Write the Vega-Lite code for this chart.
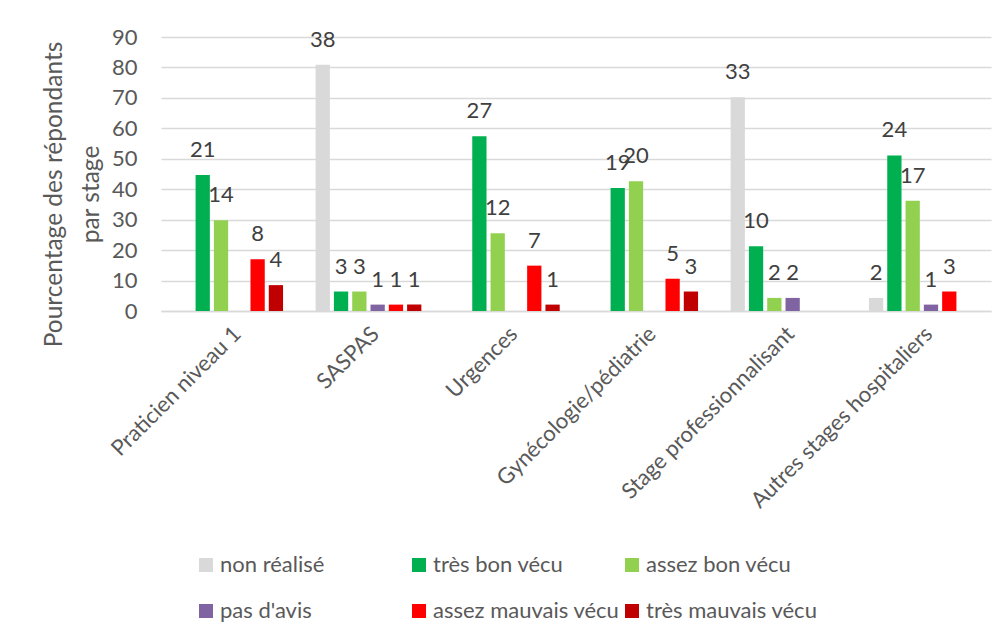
{
  "$schema": "https://vega.github.io/schema/vega-lite/v6.json",
  "width": 830,
  "height": 274,
  "autosize": {"type": "none"},
  "padding": {"left": 161, "top": 37, "right": 16, "bottom": 328},
  "background": "white",
  "config": {
    "font": "Lato",
    "view": {"stroke": null},
    "axis": {"labelColor": "#595959", "titleColor": "#595959", "labelFont": "Lato", "titleFont": "Lato"}
  },
  "data": {
    "values": [
      {"stage": "Praticien niveau 1", "avis": "très bon vécu", "n": 21, "pct": 44.7},
      {"stage": "Praticien niveau 1", "avis": "assez bon vécu", "n": 14, "pct": 29.8},
      {"stage": "Praticien niveau 1", "avis": "assez mauvais vécu", "n": 8, "pct": 17.0},
      {"stage": "Praticien niveau 1", "avis": "très mauvais vécu", "n": 4, "pct": 8.5},
      {"stage": "SASPAS", "avis": "non réalisé", "n": 38, "pct": 80.9},
      {"stage": "SASPAS", "avis": "très bon vécu", "n": 3, "pct": 6.4},
      {"stage": "SASPAS", "avis": "assez bon vécu", "n": 3, "pct": 6.4},
      {"stage": "SASPAS", "avis": "pas d'avis", "n": 1, "pct": 2.1},
      {"stage": "SASPAS", "avis": "assez mauvais vécu", "n": 1, "pct": 2.1},
      {"stage": "SASPAS", "avis": "très mauvais vécu", "n": 1, "pct": 2.1},
      {"stage": "Urgences", "avis": "très bon vécu", "n": 27, "pct": 57.4},
      {"stage": "Urgences", "avis": "assez bon vécu", "n": 12, "pct": 25.5},
      {"stage": "Urgences", "avis": "assez mauvais vécu", "n": 7, "pct": 14.9},
      {"stage": "Urgences", "avis": "très mauvais vécu", "n": 1, "pct": 2.1},
      {"stage": "Gynécologie/pédiatrie", "avis": "très bon vécu", "n": 19, "pct": 40.4},
      {"stage": "Gynécologie/pédiatrie", "avis": "assez bon vécu", "n": 20, "pct": 42.6},
      {"stage": "Gynécologie/pédiatrie", "avis": "assez mauvais vécu", "n": 5, "pct": 10.6},
      {"stage": "Gynécologie/pédiatrie", "avis": "très mauvais vécu", "n": 3, "pct": 6.4},
      {"stage": "Stage professionnalisant", "avis": "non réalisé", "n": 33, "pct": 70.2},
      {"stage": "Stage professionnalisant", "avis": "très bon vécu", "n": 10, "pct": 21.3},
      {"stage": "Stage professionnalisant", "avis": "assez bon vécu", "n": 2, "pct": 4.3},
      {"stage": "Stage professionnalisant", "avis": "pas d'avis", "n": 2, "pct": 4.3},
      {"stage": "Autres stages hospitaliers", "avis": "non réalisé", "n": 2, "pct": 4.3},
      {"stage": "Autres stages hospitaliers", "avis": "très bon vécu", "n": 24, "pct": 51.1},
      {"stage": "Autres stages hospitaliers", "avis": "assez bon vécu", "n": 17, "pct": 36.2},
      {"stage": "Autres stages hospitaliers", "avis": "pas d'avis", "n": 1, "pct": 2.1},
      {"stage": "Autres stages hospitaliers", "avis": "assez mauvais vécu", "n": 3, "pct": 6.4}
    ]
  },
  "encoding": {
    "x": {
      "field": "stage", "type": "nominal",
      "sort": ["Praticien niveau 1", "SASPAS", "Urgences", "Gynécologie/pédiatrie", "Stage professionnalisant", "Autres stages hospitaliers"],
      "scale": {"paddingInner": 0, "paddingOuter": 0},
      "axis": {
        "title": null, "labelAngle": -45, "labelFontSize": 22, "ticks": false, "tickSize": 0,
        "labelPadding": 12, "domainColor": "#D9D9D9", "domainWidth": 1.5, "labelLimit": 400
      }
    },
    "xOffset": {
      "field": "avis", "type": "nominal",
      "scale": {
        "domain": ["non réalisé", "très bon vécu", "assez bon vécu", "pas d'avis", "assez mauvais vécu", "très mauvais vécu"],
        "paddingInner": 0.22, "paddingOuter": 0.89
      }
    },
    "y": {
      "field": "pct", "type": "quantitative",
      "scale": {"domain": [0, 90], "nice": false},
      "axis": {
        "values": [0, 10, 20, 30, 40, 50, 60, 70, 80, 90],
        "title": ["Pourcentage des répondants", "par stage"],
        "titleFontSize": 24.5, "titleFontWeight": "normal", "titleLineHeight": 37,
        "titleX": -95, "titleY": 157,
        "labelFontSize": 22, "ticks": false, "tickSize": 0, "labelPadding": 24,
        "domain": false, "gridColor": "#D9D9D9", "gridWidth": 1.5
      }
    }
  },
  "layer": [
    {
      "mark": {"type": "bar"},
      "encoding": {
        "color": {
          "field": "avis", "type": "nominal",
          "scale": {
            "domain": ["non réalisé", "très bon vécu", "assez bon vécu", "pas d'avis", "assez mauvais vécu", "très mauvais vécu"],
            "range": ["#D9D9D9", "#00B050", "#92D050", "#8064A2", "#FF0000", "#C00000"]
          },
          "legend": {
            "title": null, "orient": "none", "legendX": 34, "legendY": 517,
            "direction": "horizontal", "columns": 3, "gridAlign": "all",
            "symbolType": "square", "symbolSize": 196, "symbolStrokeWidth": 0,
            "labelFontSize": 22, "labelColor": "#595959", "labelFont": "Lato",
            "labelOffset": 3, "columnPadding": 1, "rowPadding": 24, "labelLimit": 400
          }
        }
      }
    },
    {
      "mark": {"type": "text", "baseline": "alphabetic", "dy": -18, "fontSize": 22, "color": "#404040"},
      "encoding": {"text": {"field": "n", "type": "quantitative"}}
    }
  ]
}
